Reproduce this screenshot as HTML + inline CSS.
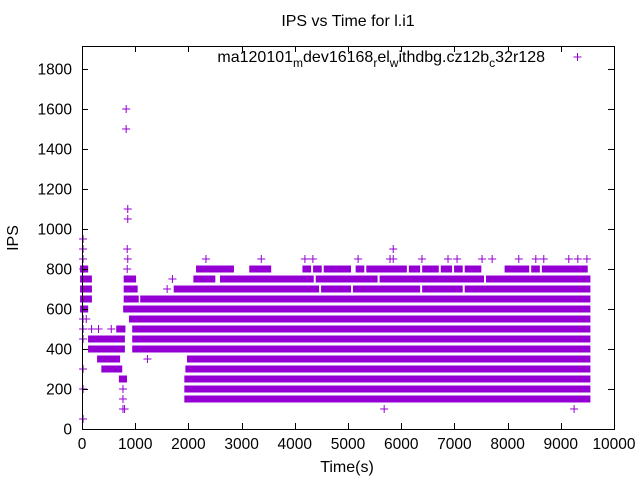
<!DOCTYPE html>
<html><head><meta charset="utf-8"><style>
body{margin:0;background:#fff}
svg{display:block;font-family:"Liberation Sans",sans-serif}
</style></head><body>
<svg id="chart" width="640" height="480" viewBox="0 0 640 480">
<rect x="0" y="0" width="640" height="480" fill="#fff"/>
<text x="348" y="26" text-anchor="middle" font-size="16">IPS vs Time for l.i1</text>
<text x="347" y="472" text-anchor="middle" font-size="16">Time(s)</text>
<text x="18" y="238" text-anchor="middle" font-size="16" transform="rotate(-90 18 238)">IPS</text>
<g id="marks"></g>
<g id="axes"></g>
<g>
<text x="545" y="62" text-anchor="end" font-size="16">ma120101<tspan font-size="12" dy="5">m</tspan><tspan dy="-5">dev16168</tspan><tspan font-size="12" dy="5">r</tspan><tspan dy="-5">el</tspan><tspan font-size="12" dy="5">w</tspan><tspan dy="-5">ithdbg.cz12b</tspan><tspan font-size="12" dy="5">c</tspan><tspan dy="-5">32r128</tspan></text>
<path d="M573.5 57H581.5M577.5 53V61" stroke="#9400d3" stroke-width="1"/>
</g>
</svg>
<script>
const xTicks=[0,1000,2000,3000,4000,5000,6000,7000,8000,9000,10000];
const yTicks=[0,200,400,600,800,1000,1200,1400,1600,1800];
// runs: [value, startTime, endTime]
const runs=[
[150,1980,2900],[150,2950,4200],[150,4250,5500],[150,5550,7600],[150,7650,8800],[150,8850,9500],
[200,1980,2150],[200,2200,4100],[200,4150,5800],[200,5850,6800],[200,6850,8600],[200,8650,9500],
[250,1980,2300],[250,2400,2700],[250,2750,3100],[250,3200,3600],[250,3700,4000],[250,4100,4500],[250,4600,4900],[250,5000,5400],[250,5500,5800],[250,5900,6200],[250,6300,6700],[250,6800,7200],[250,7300,7600],[250,7700,8100],[250,8200,8500],[250,8600,8900],[250,9000,9500],[250,750,790],
[300,2000,2400],[300,2450,2900],[300,3000,3400],[300,3450,3900],[300,4000,4400],[300,4500,4900],[300,4950,5300],[300,5400,5700],[300,5800,6300],[300,6400,6800],[300,6900,7300],[300,7350,7700],[300,7800,8300],[300,8400,8800],[300,8900,9500],[300,420,500],[300,580,700],
[350,2030,3200],[350,3250,4500],[350,4550,5600],[350,5650,6900],[350,6950,8000],[350,8050,9500],[350,340,660],
[400,1000,1150],[400,1200,1700],[400,1800,2400],[400,2450,3000],[400,3100,3500],[400,3550,4100],[400,4200,4700],[400,4800,5300],[400,5350,5900],[400,6000,6500],[400,6600,7000],[400,7100,7500],[400,7600,8100],[400,8150,8700],[400,8800,9500],[400,170,750],
[450,1000,2600],[450,2650,3700],[450,3750,5200],[450,5250,6800],[450,6850,8200],[450,8250,9500],[450,170,450],[450,490,750],
[500,1000,9500],[500,700,760],
[550,940,3800],[550,3850,5500],[550,5550,7400],[550,7450,9500],
[600,830,1000],[600,1050,3000],[600,3050,4700],[600,4750,6700],[600,6750,8500],[600,8550,9500],[600,20,60],
[650,840,1010],[650,1150,1500],[650,1550,2100],[650,2150,2600],[650,2700,3200],[650,3300,3800],[650,3900,4400],[650,4500,4900],[650,5000,5500],[650,5600,6100],[650,6200,6700],[650,6800,7300],[650,7400,7900],[650,8000,8500],[650,8600,9000],[650,9100,9500],[650,20,130],
[700,840,990],[700,1780,2000],[700,2100,2300],[700,2400,2600],[700,2700,2800],[700,2900,3100],[700,3200,3400],[700,3500,3600],[700,3700,3900],[700,4000,4200],[700,4300,4400],[700,4550,4700],[700,4800,5000],[700,5150,5300],[700,5400,5600],[700,5700,5800],[700,5900,6100],[700,6200,6300],[700,6450,6600],[700,6700,6900],[700,7000,7100],[700,7250,7400],[700,7500,7700],[700,7800,7900],[700,8000,8200],[700,8300,8500],[700,8600,8700],[700,8800,9000],[700,9100,9300],[700,9350,9500],[700,20,130],
[750,840,960],[750,2150,2170],[750,2250,2300],[750,2400,2450],[750,2650,2800],[750,2900,3000],[750,3100,3150],[750,3250,3450],[750,3550,3600],[750,3700,3900],[750,4000,4050],[750,4150,4300],[750,4450,4500],[750,4600,4800],[750,4900,5000],[750,5100,5300],[750,5400,5500],[750,5650,5800],[750,5900,6000],[750,6100,6200],[750,6300,6500],[750,6600,6700],[750,6800,6900],[750,7000,7100],[750,7200,7300],[750,7400,7500],[750,7650,7700],[750,7800,7900],[750,8000,8200],[750,8300,8400],[750,8500,8600],[750,8700,8800],[750,8900,9000],[750,9100,9200],[750,9300,9500],[750,20,130],
[800,2200,2250],[800,2300,2500],[800,2550,2600],[800,2700,2800],[800,3200,3250],[800,3300,3400],[800,3450,3500],[800,4200,4250],[800,4400,4450],[800,4600,4800],[800,4850,5000],[800,5200,5250],[800,5400,5500],[800,5600,5700],[800,5750,5900],[800,6000,6050],[800,6200,6300],[800,6450,6500],[800,6600,6650],[800,6800,6900],[800,7050,7100],[800,7250,7300],[800,7400,7450],[800,8000,8050],[800,8150,8200],[800,8300,8350],[800,8500,8550],[800,8700,8750],[800,8850,8950],[800,9050,9150],[800,9250,9300],[800,9400,9450],[800,20,60]
];
const pointTimes=[20,20,20,20,20,20,20,20,20,20,830,830,860,860,850,860,850,770,770,770,800,180,310,1230,1600,1700,2330,3370,4190,4340,5190,5790,5850,6390,6880,7050,7520,7710,8210,8530,8680,9150,9320,9490,5850,5680,9250,80,550];
const pointValues=[950,900,850,800,550,500,450,300,200,50,1600,1500,1100,1050,900,850,800,200,150,100,100,500,500,350,700,750,850,850,850,850,850,850,850,850,850,850,850,850,850,850,850,850,850,850,900,100,100,550,500];
const X0=82,X1=614,Y0=429,YTOP=46,XMAX=10000,YPX=0.2;
const xs=t=>X0+t/XMAX*(X1-X0);
const ys=v=>Y0-v*YPX;
const NS='http://www.w3.org/2000/svg';
const marks=document.getElementById('marks');
const axes=document.getElementById('axes');
const C='#9400d3';
runs.forEach(r=>{
 const el=document.createElementNS(NS,'rect');
 el.setAttribute('x',xs(r[1])-3);el.setAttribute('y',ys(r[0])-3.5);
 el.setAttribute('width',xs(r[2])-xs(r[1])+6);el.setAttribute('height',7);
 el.setAttribute('fill',C);
 
 
 marks.appendChild(el);
});
pointTimes.forEach((t,i)=>{
 const x=xs(t),y=ys(pointValues[i]);
 const el=document.createElementNS(NS,'path');
 el.setAttribute('d',`M${x-4} ${y}H${x+4}M${x} ${y-4}V${y+4}`);
 el.setAttribute('stroke',C);el.setAttribute('fill','none');
 
 
 marks.appendChild(el);
});
const frame=document.createElementNS(NS,'rect');
frame.setAttribute('x',X0+.5);frame.setAttribute('y',YTOP+.5);
frame.setAttribute('width',X1-X0);frame.setAttribute('height',Y0-YTOP);
frame.setAttribute('fill','none');frame.setAttribute('stroke','#000');


axes.appendChild(frame);
xTicks.forEach(t=>{
 const x=Math.round(xs(t))+.5;
 const p=document.createElementNS(NS,'path');
 p.setAttribute('d',`M${x} ${Y0}v-6M${x} ${YTOP}v6`);p.setAttribute('stroke','#000');
 
 
 axes.appendChild(p);
 const tx=document.createElementNS(NS,'text');
 tx.setAttribute('x',xs(t));tx.setAttribute('y',449);tx.setAttribute('text-anchor','middle');tx.setAttribute('font-size','15.5');
 tx.textContent=t;
 
 
 axes.appendChild(tx);
});
yTicks.forEach(v=>{
 const y=Math.round(ys(v))+.5;
 const p=document.createElementNS(NS,'path');
 p.setAttribute('d',`M${X0} ${y}h6M${X1} ${y}h-6`);p.setAttribute('stroke','#000');
 
 
 axes.appendChild(p);
 const tx=document.createElementNS(NS,'text');
 tx.setAttribute('x',72);tx.setAttribute('y',ys(v)+5.5);tx.setAttribute('text-anchor','end');tx.setAttribute('font-size','15.5');
 tx.textContent=v;
 
 
 axes.appendChild(tx);
});
</script>
</body></html>
